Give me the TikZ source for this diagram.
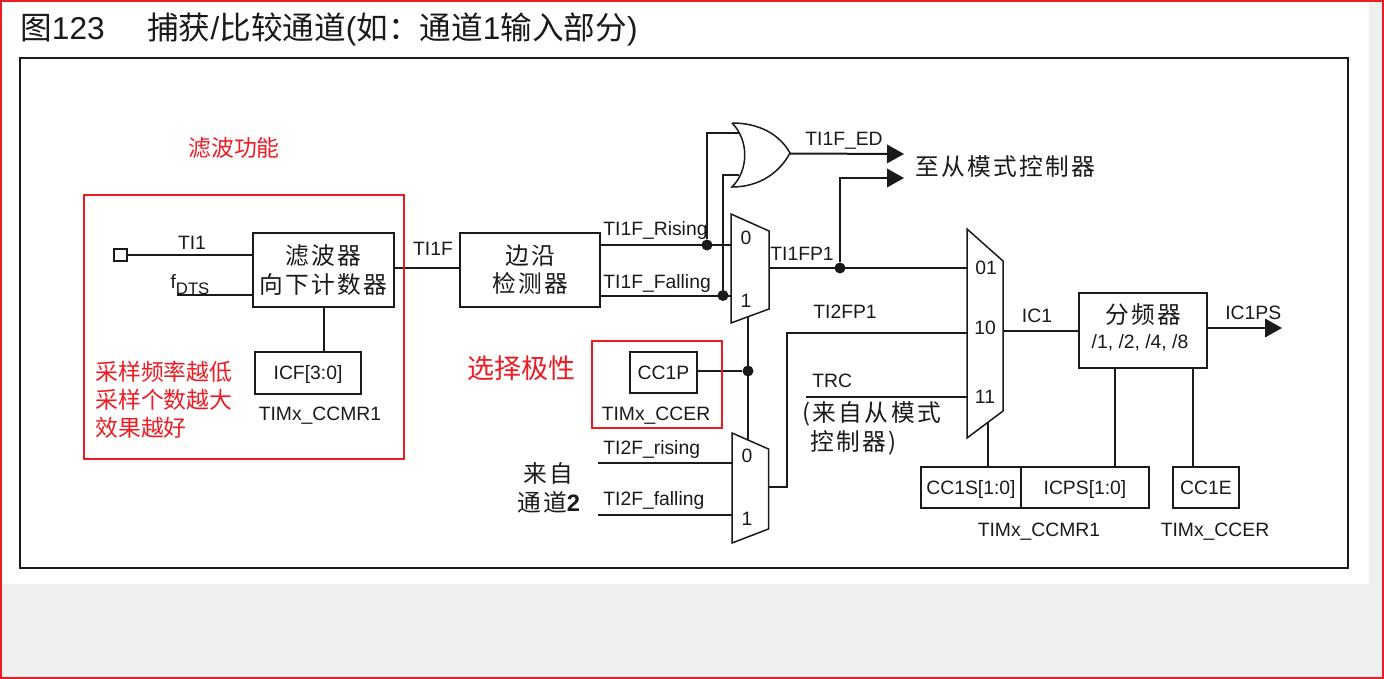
\documentclass[tikz,border=0pt]{standalone}
\usepackage{fontspec}
\setmainfont{Liberation Sans}
\newfontfamily\cjk{Noto Sans CJK SC}
\newfontfamily\cjkwide[LetterSpace=10]{Noto Sans CJK SC}
\usepackage{xcolor}
\usetikzlibrary{arrows.meta}
\definecolor{notered}{HTML}{ED1C24}
\definecolor{pagegray}{HTML}{EFEFEF}
\definecolor{ink}{HTML}{1A1A1A}

\begin{document}
\begin{tikzpicture}[x=0.02cm,y=-0.02cm,
  wire/.style={line width=0.04cm,draw=ink},
  reg/.style={draw=ink,line width=0.04cm,inner sep=0pt,text=ink,font=\fontsize{11}{13}\selectfont,text height=7.9pt,text depth=0pt},
  lab/.style={inner sep=0pt,text=ink,font=\fontsize{11}{13}\selectfont,text height=7.9pt,text depth=0pt},
  cn/.style={inner sep=0pt,text=ink,font=\fontsize{13.5}{16}\selectfont\cjkwide,align=center},
  cnbox/.style={draw=ink,line width=0.04cm,cn},
  headline/.style={inner sep=0pt,anchor=base west,text=ink,font=\fontsize{18}{20}\selectfont},
  note/.style={inner sep=0pt,text=notered,font=\fontsize{13}{16}\selectfont\cjk,align=left},
  notebox/.style={draw=notered,line width=0.05cm},
  mux/.style={draw=ink,line width=0.03cm,line join=miter},
  dot/.style={circle,fill=ink,inner sep=0pt,minimum size=0.22cm},
  feed/.style={wire,-{Triangle[length=0.34cm,width=0.37cm]}}]
\useasboundingbox (0,0) rectangle (1384,679);
% page
\fill[pagegray] (0,0) rectangle (1384,679);
\fill[white] (0,0) rectangle (1369,584);
\draw[notered,line width=0.04cm] (1,1) rectangle (1383,678);
\node[headline] (fig) at (20,40) {{\cjk 图}123};
\node[headline] (title) at (147,40) {{\cjk 捕获}/{\cjk 比较通道}({\cjk 如：通道}1{\cjk 输入部分})};
\draw[wire] (20,58) rectangle (1348,568);

% boxes
\node[cnbox,minimum width=2.82cm,minimum height=1.48cm] (filter) at (323.5,270) {滤波器\\向下计数器};
\node[cnbox,minimum width=2.8cm,minimum height=1.48cm] (edge) at (530,270) {边沿\\检测器};
\node[reg,minimum width=2.12cm,minimum height=0.84cm] (icf) at (308,373) {ICF[3:0]};
\node[reg,minimum width=1.33cm,minimum height=0.82cm] (cc1p) at (663.5,372.5) {CC1P};
\node[reg,minimum width=2.56cm,minimum height=1.5cm,anchor=north west] (presc) at (1078,292) {};
\node[cn] (presctop) at (1143,315) {分频器};
\node[lab] (presclow) at (1140,342) {/1, /2, /4, /8};
\node[reg,minimum width=2cm,minimum height=0.82cm] (cc1s) at (971,487.5) {CC1S[1:0]};
\node[reg,minimum width=2.56cm,minimum height=0.82cm] (icps) at (1085,487.5) {ICPS[1:0]};
\node[reg,minimum width=1.32cm,minimum height=0.82cm] (cc1e) at (1206,487.5) {CC1E};
\node[draw=ink,line width=0.04cm,inner sep=0pt,minimum size=0.26cm] (pad) at (120.5,255) {};

% or gate and the three selectors
\draw[mux] (732,123) .. controls (749,140) and (749,170) .. (732,187)
  .. controls (760,187) and (780,172) .. (790,153)
  .. controls (780,135) and (760,123) .. (732,123);
\draw[mux] (731,214) -- (769,231) -- (769,309) -- (731,323) -- cycle;
\draw[mux] (732,433) -- (768.5,449) -- (768.5,529) -- (732,543) -- cycle;
\draw[mux] (967,229) -- (1003,261) -- (1003,411) -- (967,438) -- cycle;
\coordinate (orin1) at (739,133);
\coordinate (orin2) at (739,175);
\coordinate (orout) at (790,153.5);
\coordinate (mux1a) at (731,245);
\coordinate (mux1b) at (731,295.5);
\coordinate (mux1out) at (769,268);
\coordinate (mux1low) at (748,317);
\coordinate (mux2a) at (732,463);
\coordinate (mux2b) at (732,515);
\coordinate (mux2top) at (748,440);
\coordinate (mux2out) at (768.5,487);
\coordinate (mux3a) at (967,268);
\coordinate (mux3b) at (967,333);
\coordinate (mux3c) at (967,397);
\coordinate (mux3out) at (1003,331);
\coordinate (mux3low) at (988,423);
\node[lab] (sel0a) at (746,238) {0};
\node[lab] (sel1a) at (746,301) {1};
\node[lab] (sel0b) at (747,456) {0};
\node[lab] (sel1b) at (747,519) {1};
\node[lab] (sel01) at (986,268) {01};
\node[lab] (sel10) at (985,328) {10};
\node[lab] (sel11) at (985,397) {11};

% junctions
\node[dot] (risedot) at (707,245) {};
\node[dot] (falldot) at (723,295.5) {};
\node[dot] (fp1dot) at (840,268) {};
\node[dot] (poldot) at (748,371) {};

% free ends
\coordinate (fdts) at (177,295);
\coordinate (ti1fy) at (430,268);
\coordinate (ti2a) at (598,463);
\coordinate (ti2b) at (598,515);
\coordinate (trc) at (806,397);
\coordinate (bendlow) at (786.5,487);
\coordinate (bendup) at (786.5,333);
\coordinate (edend) at (904,154);
\coordinate (fp1end) at (904,178);
\coordinate (icpsend) at (1282,328);
\coordinate (icpsup) at (1115,367);
\coordinate (cc1eup) at (1193,367);

% wires
\draw[wire] (pad) -- (pad -| filter.west);
\draw[wire] (fdts) -- (fdts -| filter.west);
\draw[wire] (ti1fy -| filter.east) -- (ti1fy -| edge.west);
\draw[wire] (filter.south) -- (filter.south |- icf.north);
\draw[wire] (risedot -| edge.east) -- (mux1a);
\draw[wire] (falldot -| edge.east) -- (mux1b);
\draw[wire] (risedot) |- (orin1);
\draw[wire] (falldot) |- (orin2);
\draw[feed] (orout) -- (edend);
\draw[wire] (mux1out) -- (mux3a);
\draw[feed] (fp1dot) |- (fp1end);
\draw[wire] (mux1low) -- (mux2top);
\draw[wire] (cc1p.east |- poldot) -- (poldot);
\draw[wire] (ti2a) -- (mux2a);
\draw[wire] (ti2b) -- (mux2b);
\draw[wire] (mux2out) -- (bendlow) -- (bendup) -- (mux3b);
\draw[wire] (trc) -- (mux3c);
\draw[wire] (mux3out) -- (mux3out -| presc.west);
\draw[feed] (icpsend -| presc.east) -- (icpsend);
\draw[wire] (mux3low) -- (mux3low |- cc1s.north);
\draw[wire] (icpsup) -- (icpsup |- icps.north);
\draw[wire] (cc1eup) -- (cc1eup |- cc1e.north);

% labels
\node[lab] (ti1) at (192,243) {TI1};
\node[lab] (fdtslab) at (190,282) {f\raisebox{-3pt}{\fontsize{9.5}{11}\selectfont DTS}};
\node[lab] (ti1f) at (433,249) {TI1F};
\node[lab,anchor=west] (rising) at (603,229) {TI1F\_Rising};
\node[lab,anchor=west] (falling) at (603,282) {TI1F\_Falling};
\node[lab,anchor=west] (ed) at (805,139) {TI1F\_ED};
\node[cn,anchor=west] (slave) at (915,166) {至从模式控制器};
\node[lab,anchor=west] (fp1) at (770,254) {TI1FP1};
\node[lab,anchor=west] (fp2) at (813,312) {TI2FP1};
\node[lab,anchor=west] (trclab) at (812,381) {TRC};
\node[cn,anchor=west] (trcfrom) at (802,414) {(来自从模式};
\node[cn,anchor=west] (trcfrom2) at (810,443) {控制器)};
\node[lab] (ic1) at (1037,316) {IC1};
\node[lab,anchor=west] (ic1ps) at (1225,313) {IC1PS};
\node[lab] (ccmra) at (320,414) {TIMx\_CCMR1};
\node[lab] (ccera) at (656,414) {TIMx\_CCER};
\node[lab,anchor=west] (ti2r) at (603,448) {TI2F\_rising};
\node[lab,anchor=west] (ti2f) at (603,499) {TI2F\_falling};
\node[cn] (from2) at (548.5,473) {来自};
\node[cn] (from2b) at (548.5,502) {通道{\normalfont\bfseries 2}};
\node[lab] (ccmrb) at (1039,530) {TIMx\_CCMR1};
\node[lab] (ccerb) at (1215,530) {TIMx\_CCER};

% red notes
\draw[notebox] (84,195) rectangle (404,459);
\draw[notebox] (592,341) rectangle (722,428);
\node[note,anchor=west] (filtnote) at (188,148) {滤波功能};
\node[note,anchor=west,font=\fontsize{15.4}{18}\selectfont\cjk] (polnote) at (467,368) {选择极性};
\node[note,anchor=north west] (ratenote) at (95,361) {采样频率越低\\采样个数越大\\效果越好};
\end{tikzpicture}
\end{document}
